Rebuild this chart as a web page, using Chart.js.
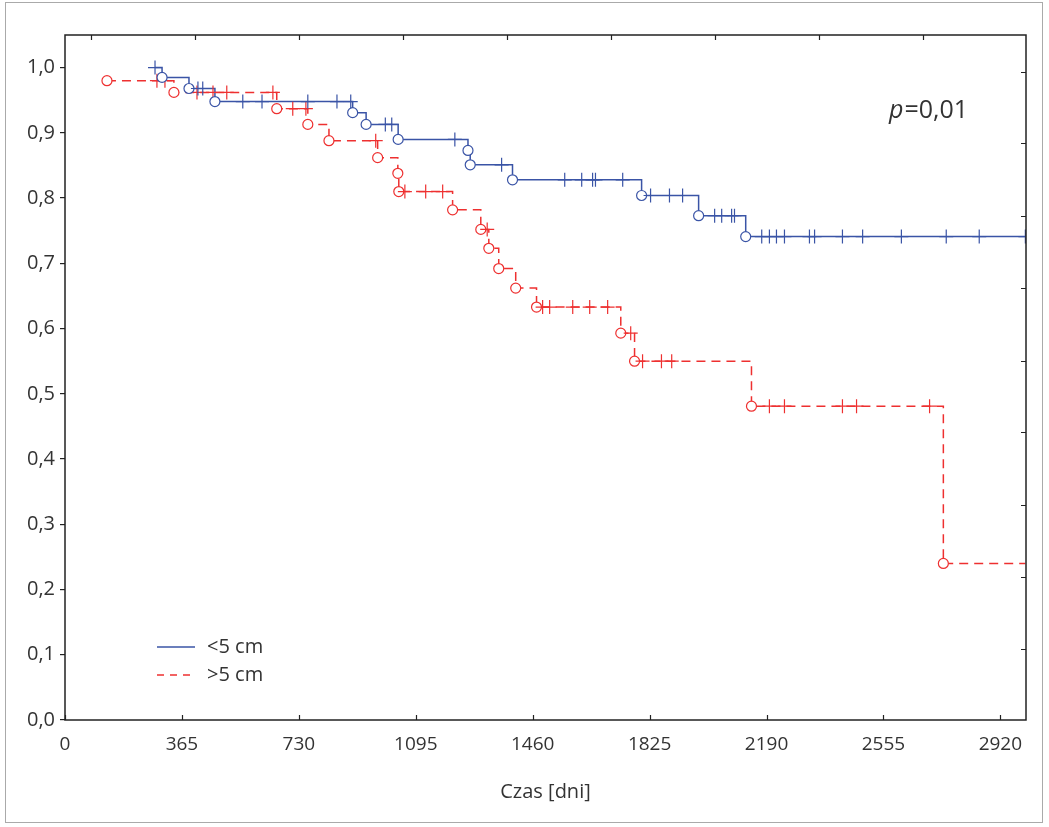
<!DOCTYPE html>
<html>
<head>
<meta charset="utf-8">
<script src="https://cdn.jsdelivr.net/npm/chart.js@4.4.0/dist/chart.umd.min.js"></script>
<style>
  html, body { margin: 0; padding: 0; background: #fff; }
  canvas { display: block; }
</style>
</head>
<body>
<canvas id="kmChart" width="1049" height="827"></canvas>
<script>
// <5 cm - krzywa przezycia (czas w dniach, odsetek)
var blueStepT = [281, 303, 387, 468, 898, 940, 1040, 1258, 1265, 1397, 1800, 1978, 2125, 2998];
var blueStepS = [1.0, 0.985, 0.968, 0.948, 0.931, 0.913, 0.890, 0.873, 0.851, 0.828, 0.804, 0.773, 0.741, 0.741];
var blueDeathT = [303, 387, 468, 898, 940, 1040, 1258, 1265, 1397, 1800, 1978, 2125];
var blueDeathS = [0.985, 0.968, 0.948, 0.931, 0.913, 0.890, 0.873, 0.851, 0.828, 0.804, 0.773, 0.741];
var blueCensT = [281, 415, 430, 555, 615, 758, 849, 892, 1000, 1020, 1217, 1363,
    1560, 1613, 1647, 1656, 1741, 1828, 1887, 1928, 2028, 2050, 2081, 2090,
    2175, 2199, 2221, 2246, 2324, 2340, 2427, 2490, 2611, 2751, 2854, 2998];
var blueCensS = [1.0, 0.968, 0.968, 0.948, 0.948, 0.948, 0.948, 0.948, 0.913, 0.913, 0.890, 0.851,
    0.828, 0.828, 0.828, 0.828, 0.828, 0.804, 0.804, 0.804, 0.773, 0.773, 0.773, 0.773,
    0.741, 0.741, 0.741, 0.741, 0.741, 0.741, 0.741, 0.741, 0.741, 0.741, 0.741, 0.741];

// >5 cm
var redStepT = [131, 340, 661, 758, 824, 976, 1039, 1042, 1210, 1298, 1323, 1354, 1407, 1472, 1735, 1778, 2143, 2742, 2998];
var redStepS = [0.98, 0.962, 0.937, 0.913, 0.888, 0.862, 0.838, 0.810, 0.782, 0.752, 0.723, 0.692, 0.662, 0.633, 0.593, 0.550, 0.481, 0.240, 0.240];
var redDeathT = [131, 340, 661, 758, 824, 976, 1039, 1042, 1210, 1298, 1323, 1354, 1407, 1472, 1735, 1778, 2143, 2742];
var redDeathS = [0.98, 0.962, 0.937, 0.913, 0.888, 0.862, 0.838, 0.810, 0.782, 0.752, 0.723, 0.692, 0.662, 0.633, 0.593, 0.550, 0.481, 0.240];
var redCensT = [287, 312, 412, 462, 505, 649, 711, 752, 970, 1061, 1126, 1179, 1318,
    1491, 1513, 1585, 1638, 1694, 1766, 1803, 1862, 1894, 2199, 2246, 2427, 2471, 2699];
var redCensS = [0.98, 0.98, 0.962, 0.962, 0.962, 0.962, 0.937, 0.937, 0.888, 0.810, 0.810, 0.810, 0.752,
    0.633, 0.633, 0.633, 0.633, 0.633, 0.593, 0.550, 0.550, 0.550, 0.481, 0.481, 0.481, 0.481, 0.481];

var xTicks = [0, 365, 730, 1095, 1460, 1825, 2190, 2555, 2920];
var yTicks = [0, 0.1, 0.2, 0.3, 0.4, 0.5, 0.6, 0.7, 0.8, 0.9, 1.0];
var topTicks = [81, 406, 730, 1055, 1379, 1704, 2028, 2353, 2677];
var rightTicks = [0.109, 0.219, 0.329, 0.441, 0.551, 0.662, 0.772, 0.884, 0.994];
var seriesNames = ['<5 cm', '>5 cm'];
var pLabel = '0,01';

var BLUE = 'rgb(58, 84, 166)';
var RED = 'rgb(238, 48, 48)';
var FONT = "'Open Sans', 'Noto Sans', sans-serif";

function pts(t, s) {
    return t.map(function(v, i) { return { x: v, y: s[i] }; });
}

var decor = {
    id: 'decor',
    afterDraw: function(chart) {
        var ctx = chart.ctx;
        var a = chart.chartArea;
        var xs = chart.scales.x, ys = chart.scales.y;
        ctx.save();
        // outer frame
        ctx.strokeStyle = '#aaa';
        ctx.lineWidth = 1;
        ctx.strokeRect(5.5, 2.5, 1037, 820);
        // plot frame
        ctx.strokeStyle = '#222';
        ctx.lineWidth = 1.5;
        ctx.strokeRect(a.left, a.top, a.right - a.left, a.bottom - a.top);
        ctx.lineWidth = 1.2;
        ctx.beginPath();
        xTicks.forEach(function(v) {
            var px = Math.round(xs.getPixelForValue(v)) + 0.5;
            ctx.moveTo(px, a.bottom); ctx.lineTo(px, a.bottom - 5);
        });
        topTicks.forEach(function(v) {
            var px = Math.round(xs.getPixelForValue(v)) + 0.5;
            ctx.moveTo(px, a.top); ctx.lineTo(px, a.top + 5);
        });
        rightTicks.forEach(function(v) {
            var py = Math.round(ys.getPixelForValue(v)) + 0.5;
            ctx.moveTo(a.right, py); ctx.lineTo(a.right - 5, py);
        });
        ctx.stroke();

        // legend
        var lx = a.left + 92, ly = a.bottom - 73;
        ctx.lineWidth = 1.5;
        ctx.strokeStyle = BLUE;
        ctx.beginPath(); ctx.moveTo(lx, ly); ctx.lineTo(lx + 38, ly); ctx.stroke();
        ctx.strokeStyle = RED;
        ctx.setLineDash([7, 6]);
        ctx.beginPath(); ctx.moveTo(lx, ly + 28); ctx.lineTo(lx + 38, ly + 28); ctx.stroke();
        ctx.setLineDash([]);
        ctx.fillStyle = '#333';
        ctx.font = '20px ' + FONT;
        ctx.textBaseline = 'middle';
        ctx.textAlign = 'left';
        ctx.fillText(seriesNames[0], lx + 50, ly);
        ctx.fillText(seriesNames[1], lx + 50, ly + 28);

        // p value
        ctx.font = 'italic 25px ' + FONT;
        ctx.textBaseline = 'alphabetic';
        var px0 = a.right - 137, py0 = a.top + 83;
        ctx.fillText('p', px0, py0);
        var w = ctx.measureText('p').width;
        ctx.font = '25px ' + FONT;
        ctx.fillText('=' + pLabel, px0 + w + 1, py0);
        ctx.restore();
    }
};

var ctxKM = document.getElementById('kmChart').getContext('2d');
var kmChart = new Chart(ctxKM, {
    type: 'scatter',
    data: {
        datasets: [
            {
                label: seriesNames[0] + ' cenz.',
                data: pts(blueCensT, blueCensS),
                pointStyle: 'cross',
                pointRadius: 7,
                borderColor: BLUE,
                borderWidth: 1.2,
                showLine: false
            },
            {
                label: seriesNames[0] + ' zgony',
                data: pts(blueDeathT, blueDeathS),
                pointStyle: 'circle',
                pointRadius: 5,
                borderColor: BLUE,
                backgroundColor: '#fff',
                borderWidth: 1.2,
                showLine: false
            },
            {
                label: seriesNames[1] + ' cenz.',
                data: pts(redCensT, redCensS),
                pointStyle: 'cross',
                pointRadius: 7,
                borderColor: RED,
                borderWidth: 1.2,
                showLine: false
            },
            {
                label: seriesNames[1] + ' zgony',
                data: pts(redDeathT, redDeathS),
                pointStyle: 'circle',
                pointRadius: 5,
                borderColor: RED,
                backgroundColor: '#fff',
                borderWidth: 1.2,
                showLine: false
            },
            {
                label: seriesNames[0],
                data: pts(blueStepT, blueStepS),
                showLine: true,
                stepped: 'before',
                pointRadius: 0,
                borderColor: BLUE,
                borderWidth: 1.5,
                fill: false
            },
            {
                label: seriesNames[1],
                data: pts(redStepT, redStepS),
                showLine: true,
                stepped: 'before',
                pointRadius: 0,
                borderColor: RED,
                borderWidth: 1.5,
                borderDash: [9, 6],
                fill: false
            }
        ]
    },
    options: {
        responsive: false,
        animation: false,
        layout: { padding: { top: 35, right: 23, left: 0, bottom: 0 } },
        plugins: {
            legend: { display: false },
            tooltip: { enabled: false }
        },
        scales: {
            x: {
                type: 'linear',
                min: 0,
                max: 3000,
                afterBuildTicks: function(scale) {
                    scale.ticks = xTicks.map(function(v) { return { value: v }; });
                },
                afterFit: function(scale) { scale.height = 107; },
                border: { display: false },
                grid: { display: true, drawOnChartArea: false, drawTicks: false, color: 'rgba(0,0,0,0)' },
                ticks: {
                    color: '#333',
                    font: { family: FONT, size: 19 },
                    padding: 13,
                    maxRotation: 0,
                    autoSkip: false,
                    callback: function(value) { return String(value); }
                },
                title: {
                    display: true,
                    text: 'Czas [dni]',
                    color: '#333',
                    font: { family: FONT, size: 20 },
                    padding: { top: 4, bottom: 23 }
                }
            },
            y: {
                min: 0,
                max: 1.05,
                afterBuildTicks: function(scale) {
                    scale.ticks = yTicks.map(function(v) { return { value: v }; });
                },
                afterFit: function(scale) { scale.width = 65; },
                border: { display: false },
                grid: { drawOnChartArea: false, tickLength: 5, color: '#222', lineWidth: 1.2 },
                ticks: {
                    color: '#333',
                    font: { family: FONT, size: 20 },
                    padding: 5,
                    callback: function(value) {
                        return value.toFixed(1).replace('.', ',');
                    }
                }
            }
        }
    },
    plugins: [decor]
});
</script>
</body>
</html>
